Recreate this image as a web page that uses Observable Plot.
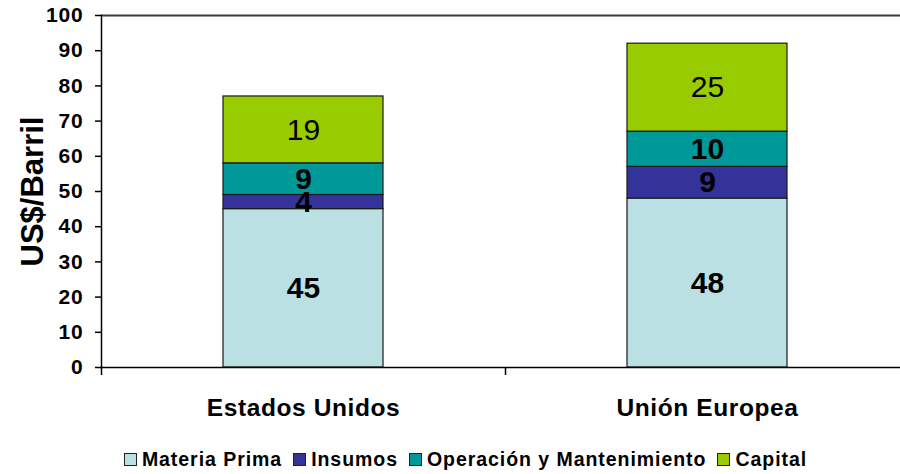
<!DOCTYPE html>
<html>
<head>
<meta charset="utf-8">
<script src="https://cdn.jsdelivr.net/npm/d3@7"></script>
<script src="https://cdn.jsdelivr.net/npm/@observablehq/plot@0.6"></script>
<style>
  html, body { margin: 0; padding: 0; background: #fff; }
  body { width: 900px; height: 474px; overflow: hidden; font-family: "Liberation Sans", Arial, sans-serif; }
  #chart svg { display: block; overflow: visible; }
  g[aria-label="y-axis tick label"] text { letter-spacing: 0.8px; }
  g[aria-label="x-axis tick label"] text { letter-spacing: 0.6px; }
  g[aria-label="ylabel"] text { letter-spacing: 2.2px; }
  #legend { display: flex; justify-content: center; align-items: center; height: 29px; padding-left: 42px;
            font-family: "Liberation Sans", Arial, sans-serif; font-weight: bold; font-size: 19.5px; letter-spacing: 0.95px; color: #000; }
  #legend .item { display: flex; align-items: center; margin-right: 11px; white-space: nowrap; }
  #legend .sw { width: 11px; height: 11px; border: 1px solid #222; margin-right: 5px; }
</style>
</head>
<body>
<div id="chart"></div>
<div id="legend"></div>
<script>
const categories = ["Estados Unidos", "Unión Europea"];
const series = ["Materia Prima", "Insumos", "Operación y Mantenimiento", "Capital"];
const usValues = [45, 4, 9, 19];
const euValues = [48, 9, 10, 25];
const colors = ["#BBE0E3", "#333399", "#009999", "#99CC00"];
const yTicks = [0, 10, 20, 30, 40, 50, 60, 70, 80, 90, 100];
const yLabel = "US$/Barril";
const normalSeries = "Capital";

const data = series.flatMap((s, i) => [
  {cat: categories[0], series: s, value: usValues[i]},
  {cat: categories[1], series: s, value: euValues[i]}
]);

const H = 445, mLeft = 101, mTop = 15, axisBottom = 367, xRight = 909;
const step = (xRight - mLeft) / categories.length;

const chart = Plot.plot({
  width: 900,
  height: H,
  marginLeft: mLeft,
  marginTop: mTop,
  marginBottom: H - axisBottom,
  marginRight: 0,
  x: {domain: categories, range: [mLeft, xRight], paddingInner: 0.604, paddingOuter: 0.302, axis: null, label: null},
  y: {domain: [0, 100], axis: null, label: null},
  color: {domain: series, range: colors},
  style: {fontFamily: "'Liberation Sans', Arial, sans-serif", color: "#000", background: "#fff", overflow: "visible"},
  marks: [
    Plot.barY(data, {x: "cat", y: "value", fill: "series", stroke: "#1a1a1a", strokeWidth: 1.2}),
    Plot.ruleY([100], {stroke: "#3c3c3c", strokeWidth: 2}),
    Plot.ruleY([0], {stroke: "#000", strokeWidth: 1.5}),
    Plot.frame({anchor: "left", stroke: "#000", strokeWidth: 1.5}),
    Plot.ruleX(categories, {x: d => d, dx: -step / 2, y1: 0, y2: 0, insetBottom: -8, stroke: "#000", strokeWidth: 1.5}),
    Plot.axisY({ticks: yTicks, tickSize: 6, tickPadding: 12, fontSize: 21, fontWeight: "bold", label: null, tickFormat: d => String(d), stroke: "#000", strokeWidth: 1.5}),
    Plot.axisX({tickSize: 0, tickPadding: 31, fontSize: 24.5, fontWeight: "bold", label: null}),
    Plot.text([yLabel], {frameAnchor: "left", textAnchor: "middle", lineAnchor: "middle", dx: -68, rotate: -90, text: d => d, fontSize: 31, fontWeight: "bold", fill: "#000", ariaLabel: "ylabel"}),
    Plot.text(data, Plot.stackY({x: "cat", y: "value", text: d => d.series === normalSeries ? "" : String(d.value), fontSize: 30, fontWeight: "bold", fill: "#000"})),
    Plot.text(data, Plot.stackY({x: "cat", y: "value", text: d => d.series === normalSeries ? String(d.value) : "", fontSize: 30, fontWeight: "normal", fill: "#000"}))
  ]
});
document.getElementById("chart").appendChild(chart);

const legend = document.getElementById("legend");
series.forEach((s, i) => {
  const item = document.createElement("div");
  item.className = "item";
  const sw = document.createElement("div");
  sw.className = "sw";
  sw.style.background = colors[i];
  const t = document.createElement("span");
  t.textContent = s;
  item.appendChild(sw);
  item.appendChild(t);
  legend.appendChild(item);
});
</script>
</body>
</html>
